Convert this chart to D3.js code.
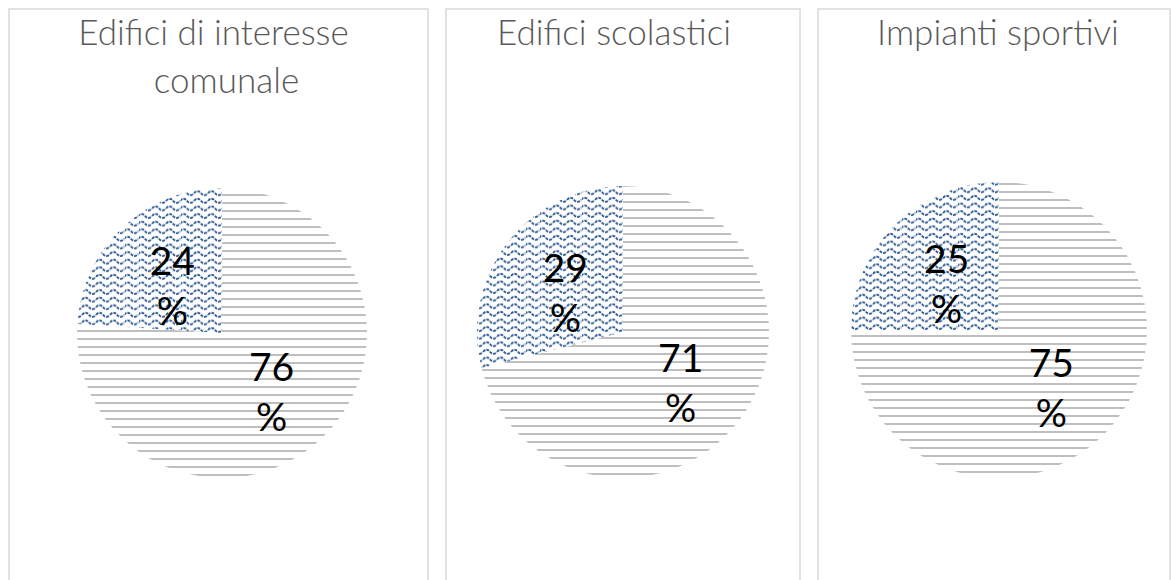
<!DOCTYPE html>
<html>
<head>
<meta charset="utf-8">
<script src="https://cdn.jsdelivr.net/npm/d3@7"></script>
<style>
  html, body { margin: 0; padding: 0; background: #fff; }
  svg { display: block; }
</style>
</head>
<body>
<script>
// Chart content
const titles = [["Edifici di interesse", "comunale"], ["Edifici scolastici"], ["Impianti sportivi"]];
const seriesNames = ["Altro", "Quota"];
const otherShare = [76, 71, 75];   // horizontal-line slice
const mainShare  = [24, 29, 25];   // wave-pattern slice

// Layout of the three panels (title line nudges in px)
const W = 1171, H = 580;
const panels = [
  { x0: 9,   x1: 428,  cx: 222, cy: 333, r: 145, titleDx: [-5, 8] },
  { x0: 446, x1: 800,  cx: 623, cy: 332, r: 146, titleDx: [-9] },
  { x0: 818, x1: 1170, cx: 999, cy: 330, r: 148, titleDx: [4] }
];

const svg = d3.select("body").append("svg").attr("width", W).attr("height", H);
const defs = svg.append("defs");

// Horizontal gray stripes
const stripe = defs.append("pattern")
  .attr("id", "stripes").attr("patternUnits", "userSpaceOnUse")
  .attr("width", 8).attr("height", 8);
stripe.append("rect").attr("width", 8).attr("height", 8).attr("fill", "#fff");
stripe.append("rect").attr("y", 5).attr("width", 8).attr("height", 2).attr("fill", "#bfbfbf");

// Blue wave pattern
const wave = defs.append("pattern")
  .attr("id", "waves").attr("patternUnits", "userSpaceOnUse")
  .attr("width", 14).attr("height", 7.6);
wave.append("rect").attr("width", 14).attr("height", 7.6).attr("fill", "#fff");
wave.append("path")
  .attr("d", "M0,4.6 Q3.5,0.6 7,4.6 T14,4.6")
  .attr("fill", "none").attr("stroke", "#2f5b93").attr("stroke-width", 1.9)
  .attr("stroke-dasharray", "3,1");

const fills = ["url(#stripes)", "url(#waves)"];

const pie = d3.pie().sort(null).value(d => d.value).startAngle(0).endAngle(2 * Math.PI);

panels.forEach((p, i) => {
  // panel frame
  svg.append("rect")
    .attr("x", p.x0).attr("y", 9)
    .attr("width", p.x1 - p.x0).attr("height", H + 20)
    .attr("fill", "none").attr("stroke", "#d9d9d9").attr("stroke-width", 1.5);

  // title
  const midX = (p.x0 + p.x1) / 2;
  const t = svg.append("text")
    .attr("text-anchor", "middle")
    .attr("font-family", "Lato, 'Open Sans', sans-serif")
    .attr("font-weight", 300)
    .attr("font-size", 35)
    .attr("fill", "#595959");
  titles[i].forEach((line, k) => {
    t.append("tspan").attr("x", midX + (p.titleDx[k] || 0)).attr("y", 45 + k * 48).text(line);
  });

  const data = [
    { name: seriesNames[0], value: otherShare[i] },
    { name: seriesNames[1], value: mainShare[i] }
  ];
  const arcs = pie(data);
  const arc = d3.arc().innerRadius(0).outerRadius(p.r);
  const g = svg.append("g").attr("transform", `translate(${p.cx},${p.cy})`);

  g.selectAll("path.slice").data(arcs).join("path")
    .attr("class", "slice")
    .attr("d", arc)
    .attr("fill", (d, j) => fills[j]);

  // value labels, number above the percent sign
  g.selectAll("text.lbl").data(arcs).join("text")
    .attr("class", "lbl")
    .attr("text-anchor", "middle")
    .attr("font-family", "Lato, 'Open Sans', sans-serif")
    .attr("font-size", 39)
    .attr("fill", "#000")
    .each(function(d) {
      const [x, y] = arc.centroid(d);
      const el = d3.select(this);
      el.append("tspan").attr("x", x).attr("y", y - 5).text(d.data.value);
      el.append("tspan").attr("x", x).attr("y", y + 45).text("%");
    });
});
</script>
</body>
</html>
